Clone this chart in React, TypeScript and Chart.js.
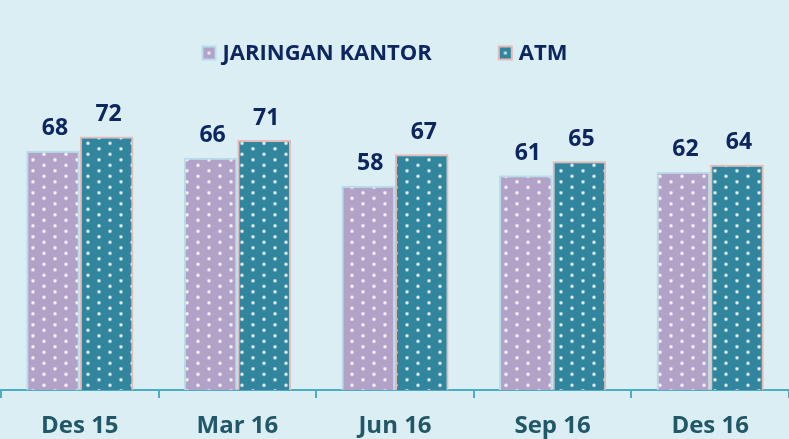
import { useEffect, useRef } from "react";
import { Chart, registerables } from "chart.js";

Chart.register(...registerables);

const categories = ["Des 15", "Mar 16", "Jun 16", "Sep 16", "Des 16"];
const jaringanKantor = [68, 66, 58, 61, 62];
const atm = [72, 71, 67, 65, 64];
const seriesNames = ["JARINGAN KANTOR", "ATM"];
const yMin = 0;
const yMax = 89.5;

const BG = "#DBEEF3";
const PURPLE = "#B3A2C7";
const TEAL = "#31859C";
const PURPLE_BORDER = "#B7DEE8";
const TEAL_BORDER = "#E6B9B8";
const AXIS = "#4BACC6";
const NAVY = "#0E2660";
const CAT = "#215868";
const FONT = "'Open Sans'";

function makePattern(color: string): CanvasPattern | string {
  const c = document.createElement("canvas");
  c.width = 22;
  c.height = 11;
  const g = c.getContext("2d");
  if (!g) return color;
  g.fillStyle = color;
  g.fillRect(0, 0, 22, 11);
  const dot = (x: number, y: number) => {
    for (const dx of [-22, 0, 22]) {
      for (const dy of [-11, 0, 11]) {
        const px = x + dx;
        const py = y + dy;
        const rg = g.createRadialGradient(px, py, 0, px, py, 2.4);
        rg.addColorStop(0, "rgba(255,255,255,1)");
        rg.addColorStop(0.4, "rgba(255,255,255,0.8)");
        rg.addColorStop(1, "rgba(255,255,255,0)");
        g.fillStyle = rg;
        g.fillRect(px - 3, py - 3, 6, 6);
      }
    }
  };
  dot(0, 0.3);
  dot(11, 5.8);
  return g.createPattern(c, "repeat") || color;
}

export default function App() {
  const ref = useRef<HTMLCanvasElement>(null);

  useEffect(() => {
    if (!ref.current) return;
    const purplePat = makePattern(PURPLE);
    const tealPat = makePattern(TEAL);

    const legendPlugin = {
      id: "customLegend",
      afterDraw(chart: any) {
        const ctx = chart.ctx as CanvasRenderingContext2D;
        ctx.save();
        ctx.font = `bold 22px ${FONT}`;
        const box = 15;
        const gap = 6;
        const itemGap = 66;
        const items = [
          { text: seriesNames[0], fill: PURPLE, border: PURPLE_BORDER },
          { text: seriesNames[1], fill: TEAL, border: TEAL_BORDER },
        ];
        const widths = items.map((i) => box + gap + ctx.measureText(i.text).width);
        const total = widths[0] + itemGap + widths[1];
        let x = (chart.width - total) / 2 - 10;
        const cy = 53;
        items.forEach((it, idx) => {
          ctx.fillStyle = it.border;
          ctx.fillRect(x, cy - box / 2, box, box);
          ctx.fillStyle = it.fill;
          ctx.fillRect(x + 2, cy - box / 2 + 2, box - 4, box - 4);
          const rg = ctx.createRadialGradient(x + box / 2, cy, 0, x + box / 2, cy, 2.5);
          rg.addColorStop(0, "rgba(255,255,255,1)");
          rg.addColorStop(1, "rgba(255,255,255,0)");
          ctx.fillStyle = rg;
          ctx.fillRect(x + box / 2 - 3, cy - 3, 6, 6);
          ctx.fillStyle = NAVY;
          ctx.textAlign = "left";
          ctx.textBaseline = "middle";
          ctx.fillText(it.text, x + box + gap, cy + 1);
          x += widths[idx] + itemGap;
        });
        ctx.restore();
      },
    };

    const labelPlugin = {
      id: "valueLabels",
      afterDatasetsDraw(chart: any) {
        const ctx = chart.ctx as CanvasRenderingContext2D;
        ctx.save();
        ctx.font = `bold 23px ${FONT}`;
        ctx.fillStyle = NAVY;
        ctx.textAlign = "center";
        ctx.textBaseline = "middle";
        chart.data.datasets.forEach((ds: any, i: number) => {
          const meta = chart.getDatasetMeta(i);
          meta.data.forEach((el: any, j: number) => {
            ctx.fillText(String(ds.data[j]), el.x + 2, el.y - 22);
          });
        });
        ctx.restore();
      },
    };

    const chart = new Chart(ref.current, {
      type: "bar",
      data: {
        labels: categories,
        datasets: [
          {
            label: seriesNames[0],
            data: jaringanKantor,
            backgroundColor: purplePat as any,
            borderColor: PURPLE_BORDER,
            borderWidth: 2,
            borderSkipped: "start",
          },
          {
            label: seriesNames[1],
            data: atm,
            backgroundColor: tealPat as any,
            borderColor: TEAL_BORDER,
            borderWidth: 2,
            borderSkipped: "start",
          },
        ],
      },
      options: {
        responsive: false,
        animation: false,
        events: [],
        layout: { padding: { top: 75, left: 1, right: 0, bottom: 0 } },
        datasets: { bar: { categoryPercentage: 0.68, barPercentage: 1 } },
        plugins: {
          legend: { display: false },
          title: { display: false },
          tooltip: { enabled: false },
        },
        scales: {
          x: {
            grid: {
              offset: true,
              drawOnChartArea: false,
              drawTicks: true,
              tickLength: 8,
              color: AXIS,
              lineWidth: 2,
            },
            border: { display: true, color: AXIS, width: 2 },
            ticks: {
              color: CAT,
              font: { family: FONT, size: 24, weight: "bold" },
              padding: 14,
              maxRotation: 0,
            },
            afterFit: (scale: any) => {
              scale.height = 49;
            },
          },
          y: {
            display: false,
            min: yMin,
            max: yMax,
          },
        },
      },
      plugins: [legendPlugin, labelPlugin],
    });
    return () => chart.destroy();
  }, []);

  return (
    <div style={{ position: "fixed", left: 0, top: 0, width: 789, height: 439, background: BG, overflow: "hidden" }}>
      <canvas ref={ref} width={789} height={439} style={{ display: "block" }} />
    </div>
  );
}
